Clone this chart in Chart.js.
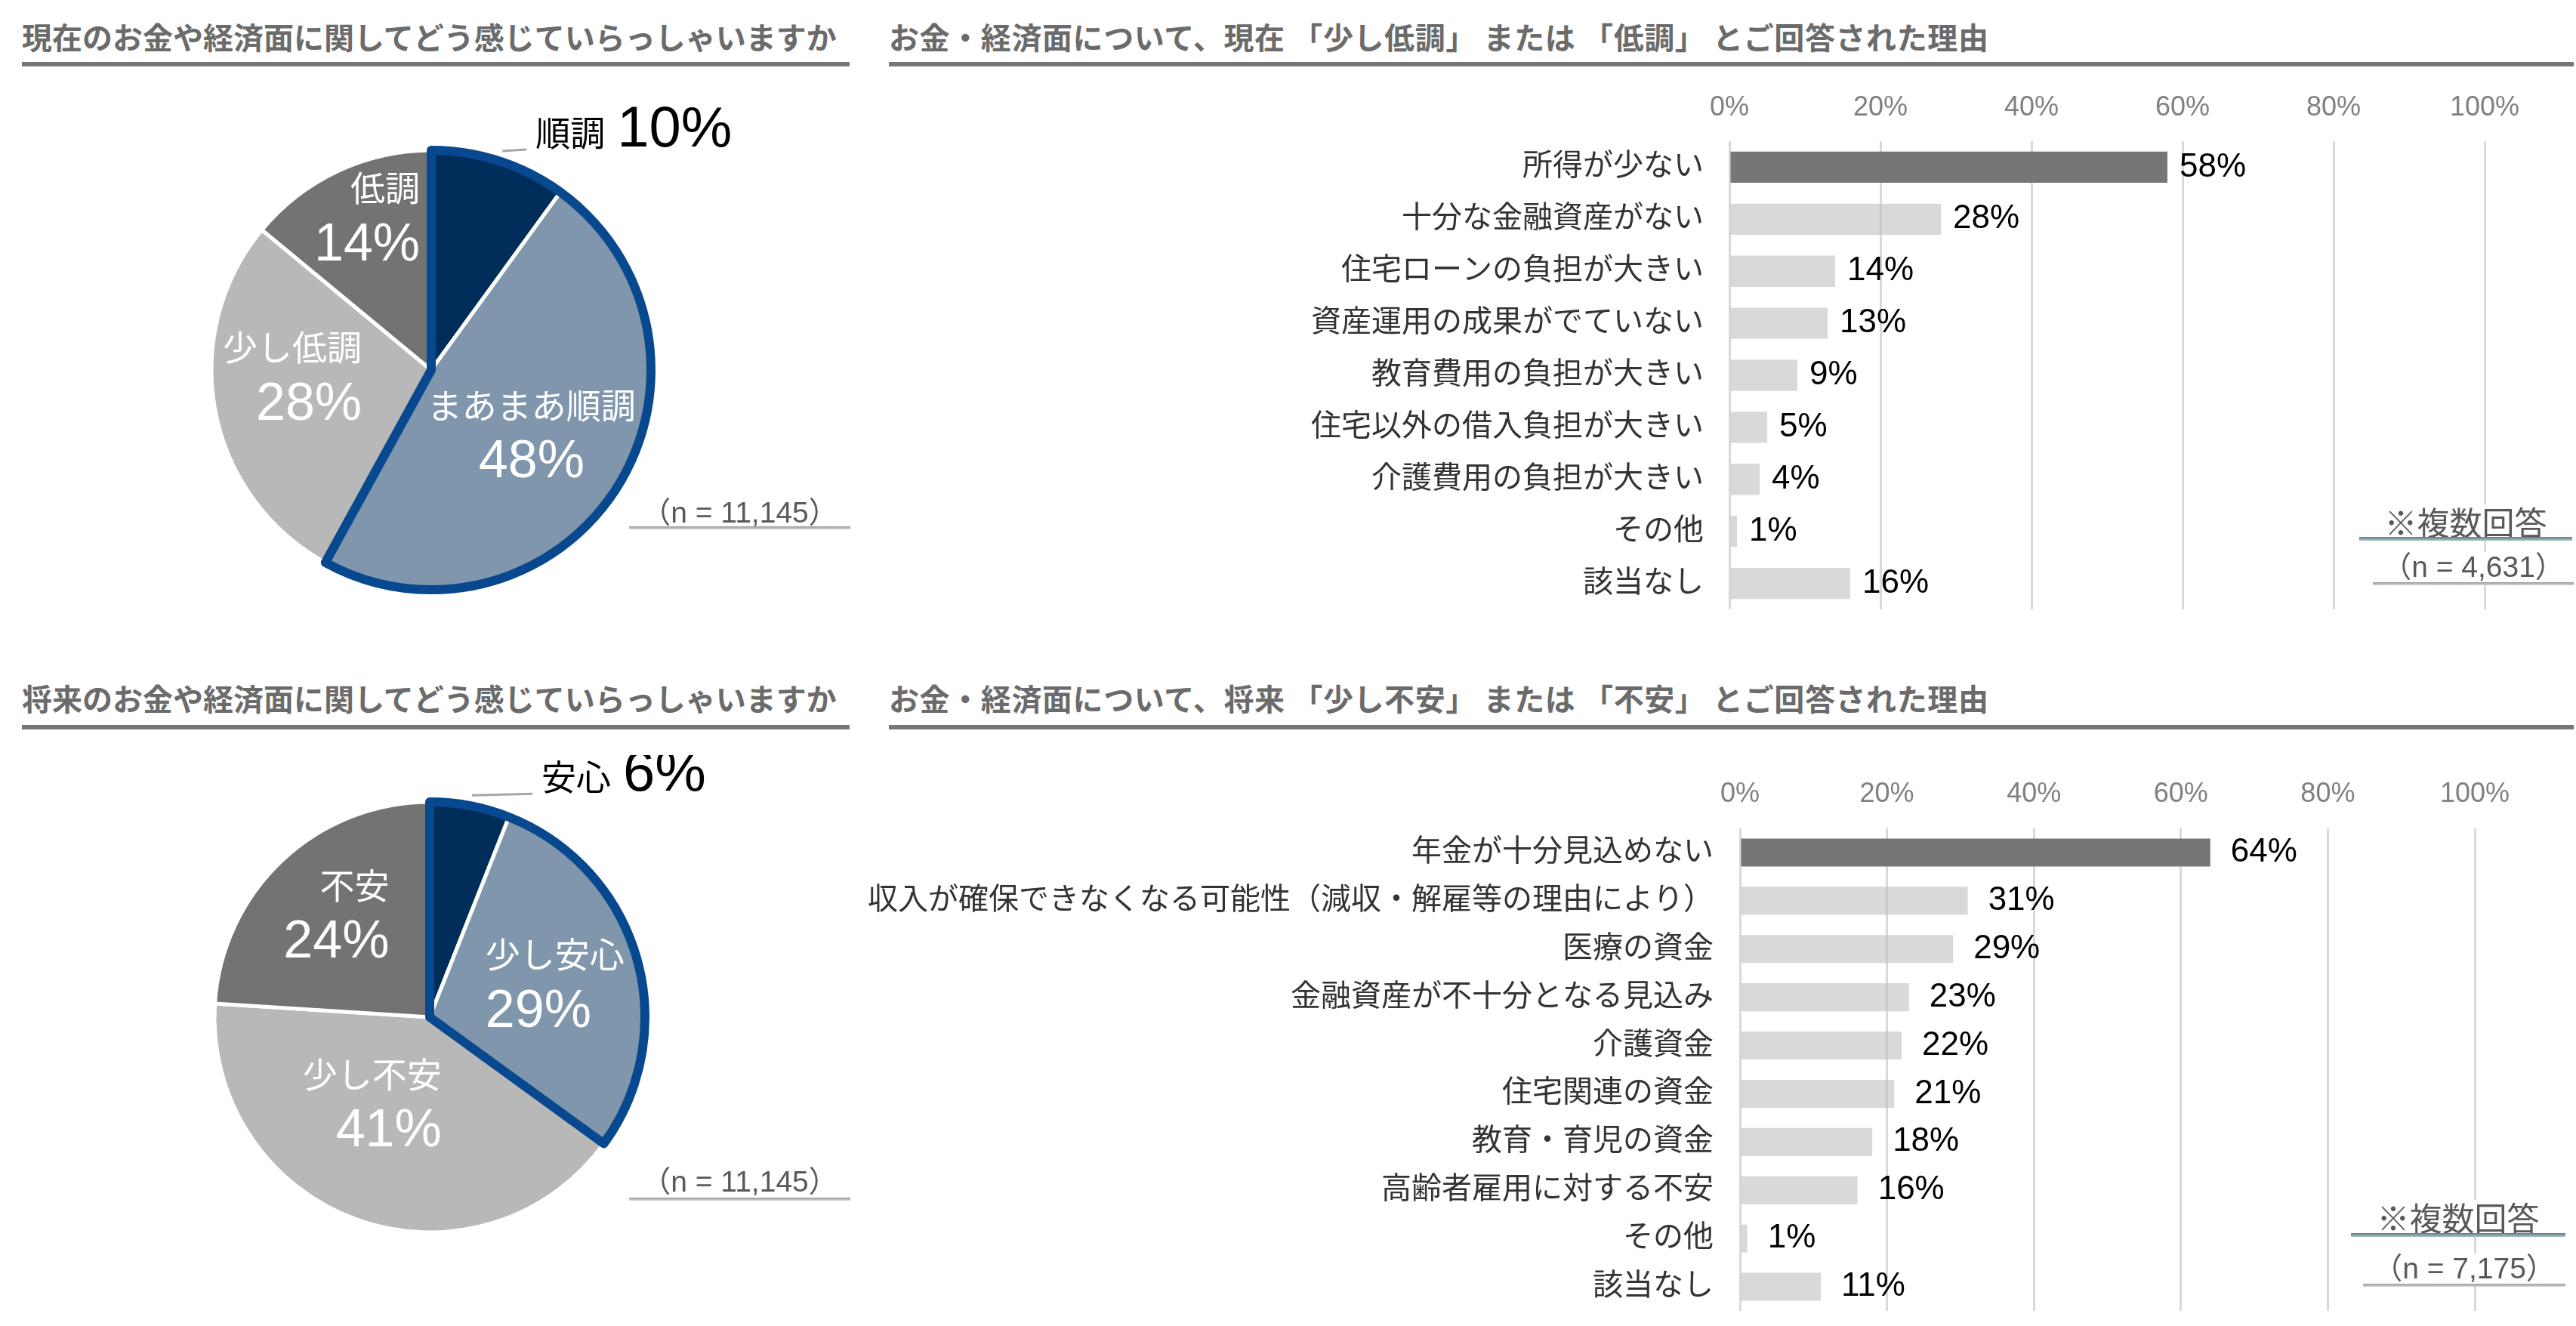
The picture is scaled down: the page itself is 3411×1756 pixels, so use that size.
<!DOCTYPE html>
<html lang="ja">
<head>
<meta charset="utf-8">
<title>お金・経済面に関する意識</title>
<script src="https://cdn.jsdelivr.net/npm/chart.js@4.4.1/dist/chart.umd.min.js"></script>
<style>
    html, body { margin: 0; padding: 0; background: #fff; }
    body {
        position: relative;
        width: 3411px;
        height: 1756px;
        overflow: hidden;
        font-family: 'Liberation Sans', 'Noto Sans CJK JP', sans-serif;
    }
    canvas { position: absolute; }
    .title {
        position: absolute;
        font-family: 'Noto Sans CJK JP', sans-serif;
        font-weight: bold;
        font-size: 40px;
        line-height: 40px;
        color: #6b6b6b;
        white-space: nowrap;
    }
    .title.wide { letter-spacing: 0.6px; }
    .rule { position: absolute; height: 6px; background: #767676; }
    .note {
        position: absolute;
        background: #fff;
        color: #595959;
        text-align: center;
        white-space: nowrap;
        z-index: 2;
    }
    .note.multi { font-family: 'Noto Sans CJK JP', sans-serif; font-size: 43px; }
    .note.count { font-size: 39px; }
    .uline { position: absolute; z-index: 3; }
    .uline.teal { height: 5px; background: linear-gradient(#5d7f86, #a9c2c6); }
    .uline.gray { height: 4px; background: linear-gradient(#9a9a9a, #d4d4d4); }
</style>
</head>
<body>

<div class="title" style="left:29px; top:28px;">現在のお金や経済面に関してどう感じていらっしゃいますか</div>
<div class="rule" style="left:29px; top:82px; width:1096px;"></div>
<div class="title wide" style="left:1177px; top:28px;">お金・経済面について、現在 「少し低調」 または 「低調」 とご回答された理由</div>
<div class="rule" style="left:1177px; top:82px; width:2231px;"></div>

<div class="title" style="left:29px; top:904px;">将来のお金や経済面に関してどう感じていらっしゃいますか</div>
<div class="rule" style="left:29px; top:960px; width:1096px;"></div>
<div class="title wide" style="left:1177px; top:904px;">お金・経済面について、将来 「少し不安」 または 「不安」 とご回答された理由</div>
<div class="rule" style="left:1177px; top:960px; width:2231px;"></div>

<canvas id="presentPie" width="1142" height="780" style="left:0; top:100px;"></canvas>
<canvas id="futurePie" width="1138" height="694" style="left:0; top:1000px;"></canvas>
<canvas id="slumpBars" width="2261" height="720" style="left:1150px; top:100px;"></canvas>
<canvas id="anxietyBars" width="2261" height="770" style="left:1150px; top:980px;"></canvas>

<!-- sample size notes -->
<div class="note count" style="left:833px; top:659px; width:293px; line-height:40px;">（n = 11,145）</div>
<div class="uline gray" style="left:833px; top:697px; width:293px;"></div>
<div class="note count" style="left:833px; top:1545px; width:293px; line-height:40px;">（n = 11,145）</div>
<div class="uline gray" style="left:833px; top:1586px; width:293px;"></div>

<div class="note multi" style="left:3124px; top:668px; width:282px; height:44px; line-height:44px;">※複数回答</div>
<div class="uline teal" style="left:3124px; top:711px; width:282px;"></div>
<div class="note count" style="left:3142px; top:731px; width:266px; height:40px; line-height:40px;">（n = 4,631）</div>
<div class="uline gray" style="left:3142px; top:771px; width:266px;"></div>

<div class="note multi" style="left:3113px; top:1589px; width:284px; height:44px; line-height:44px;">※複数回答</div>
<div class="uline teal" style="left:3113px; top:1633px; width:284px;"></div>
<div class="note count" style="left:3129px; top:1660px; width:268px; height:40px; line-height:40px;">（n = 7,175）</div>
<div class="uline gray" style="left:3129px; top:1700px; width:268px;"></div>

<script>
// --- data ---
const presentLabels = ['順調', 'まあまあ順調', '少し低調', '低調'];
const presentShares = [10, 48, 28, 14];

const futureLabels = ['安心', '少し安心', '少し不安', '不安'];
const futureShares = [6, 29, 41, 24];

const slumpReasons = [
    '所得が少ない',
    '十分な金融資産がない',
    '住宅ローンの負担が大きい',
    '資産運用の成果がでていない',
    '教育費用の負担が大きい',
    '住宅以外の借入負担が大きい',
    '介護費用の負担が大きい',
    'その他',
    '該当なし'
];
const slumpValues = [58, 28, 14, 13, 9, 5, 4, 1, 16];

const anxietyReasons = [
    '年金が十分見込めない',
    '収入が確保できなくなる可能性（減収・解雇等の理由により）',
    '医療の資金',
    '金融資産が不十分となる見込み',
    '介護資金',
    '住宅関連の資金',
    '教育・育児の資金',
    '高齢者雇用に対する不安',
    'その他',
    '該当なし'
];
const anxietyValues = [64, 31, 29, 23, 22, 21, 18, 16, 1, 11];

const pctTicks = [0, 20, 40, 60, 80, 100];

const pieColors = ['#002d5a', '#7f96ad', '#b8b8b8', '#737373'];
const FAMILY = "'Liberation Sans', 'Noto Sans CJK JP', sans-serif";

function font(size) {
    return size + 'px ' + FAMILY;
}

/**
 * Thick outline around the first slices of a pie (the "positive" group)
 */
const groupOutline = {
    id: 'groupOutline',
    afterDatasetsDraw(chart, args, opts) {
        const arcs = chart.getDatasetMeta(0).data;
        const first = arcs[0];
        const last = arcs[opts.count - 1];
        const ctx = chart.ctx;
        ctx.save();
        ctx.beginPath();
        ctx.moveTo(first.x, first.y);
        ctx.arc(first.x, first.y, first.outerRadius, first.startAngle, last.endAngle);
        ctx.closePath();
        ctx.lineWidth = opts.width;
        ctx.strokeStyle = opts.color;
        ctx.lineJoin = 'round';
        ctx.stroke();
        ctx.restore();
    }
};

/**
 * Name + percentage written on (or beside) each slice
 */
const sliceLabels = {
    id: 'sliceLabels',
    afterDatasetsDraw(chart, args, opts) {
        const ctx = chart.ctx;
        const arcs = chart.getDatasetMeta(0).data;
        const labels = chart.data.labels;
        const values = chart.data.datasets[0].data;
        arcs.forEach((arc, i) => {
            const p = opts.placements[i];
            const mid = (arc.startAngle + arc.endAngle) / 2;
            ctx.save();
            ctx.textBaseline = 'middle';
            if (p.outside) {
                const r = arc.outerRadius + 14;
                const sx = arc.x + Math.cos(mid) * r;
                const sy = arc.y + Math.sin(mid) * r;
                ctx.strokeStyle = '#a6a6a6';
                ctx.lineWidth = 3;
                ctx.beginPath();
                ctx.moveTo(sx, sy);
                ctx.lineTo(sx + p.leader, sy - 2);
                ctx.stroke();

                ctx.fillStyle = '#000';
                ctx.textAlign = 'left';
                ctx.font = font(46);
                const nx = sx + p.leader + 12;
                ctx.fillText(labels[i], nx, sy - 20);
                const w = ctx.measureText(labels[i]).width;
                ctx.font = font(76);
                ctx.fillText(values[i] + '%', nx + w + 16, sy - 27);
            } else {
                const half = arc.outerRadius / 2;
                const ax = arc.x + Math.cos(mid) * half + p.dx;
                const ay = arc.y + Math.sin(mid) * half + p.dy;
                ctx.fillStyle = '#fff';
                ctx.textAlign = p.align;
                ctx.font = font(46);
                ctx.fillText(labels[i], ax, ay - 36);
                ctx.font = font(70);
                ctx.fillText(values[i] + '%', ax, ay + 36);
            }
            ctx.restore();
        });
    }
};

/**
 * Value written just after the end of each bar
 */
const valueLabels = {
    id: 'valueLabels',
    afterDatasetsDraw(chart, args, opts) {
        const ctx = chart.ctx;
        const values = chart.data.datasets[0].data;
        ctx.save();
        ctx.font = font(44);
        ctx.fillStyle = '#000';
        ctx.textAlign = 'left';
        ctx.textBaseline = 'middle';
        chart.getDatasetMeta(0).data.forEach((bar, i) => {
            ctx.fillText(values[i] + '%', bar.x + opts.gap, bar.y);
        });
        ctx.restore();
    }
};

function makePie(id, labels, shares, radius, placements) {
    return new Chart(document.getElementById(id), {
        type: 'pie',
        data: {
            labels: labels,
            datasets: [{
                data: shares,
                backgroundColor: pieColors,
                borderColor: '#ffffff',
                borderWidth: 5,
            }],
        },
        options: {
            responsive: false,
            animation: false,
            radius: radius,
            layout: { padding: 0 },
            plugins: {
                legend: { display: false },
                tooltip: { enabled: false },
                groupOutline: { count: 2, color: '#08488f', width: 12 },
                sliceLabels: { placements: placements },
            },
        },
        plugins: [groupOutline, sliceLabels],
    });
}

function makeBars(id, labels, values, o) {
    return new Chart(document.getElementById(id), {
        type: 'bar',
        data: {
            labels: labels,
            datasets: [{
                data: values,
                backgroundColor: values.map((v, i) => i === 0 ? '#767676' : 'rgba(191, 191, 191, 0.6)'),
                barPercentage: o.bar,
                categoryPercentage: 1,
            }],
        },
        options: {
            indexAxis: 'y',
            responsive: false,
            animation: false,
            layout: { padding: { top: 0, left: 0, right: o.padRight, bottom: o.padBottom } },
            plugins: {
                legend: { display: false },
                tooltip: { enabled: false },
                valueLabels: { gap: o.gap },
            },
            scales: {
                x: {
                    position: 'top',
                    min: 0,
                    max: 100,
                    afterBuildTicks: s => { s.ticks = pctTicks.map(v => ({ value: v })); },
                    afterFit: s => { s.height = o.axisH; },
                    ticks: {
                        callback: v => v + '%',
                        color: '#808080',
                        font: { size: 36, family: FAMILY },
                        padding: o.tickPad,
                        maxRotation: 0,
                    },
                    grid: { color: '#d9d9d9', lineWidth: 3, drawTicks: false },
                    border: { display: false },
                },
                y: {
                    // fixed axis width; labels sit inside their bands so no extra padding
                    afterFit: s => {
                        s.width = o.axisW;
                        s.paddingTop = 0;
                        s.paddingBottom = 0;
                    },
                    ticks: {
                        color: '#333333',
                        font: { size: 40, family: FAMILY },
                        padding: o.labelPad,
                        autoSkip: false,
                    },
                    grid: { display: false, drawTicks: false },
                    border: { display: false },
                },
            },
        },
        plugins: [valueLabels],
    });
}

makePie('presentPie', presentLabels, presentShares, 291, [
    { outside: true, leader: 32 },
    { dx: 10, dy: 9, align: 'center' },
    { dx: 51, dy: -17, align: 'right' },
    { dx: 47, dy: -69, align: 'right' },
]);

makePie('futurePie', futureLabels, futureShares, 285, [
    { outside: true, leader: 80 },
    { dx: -63, dy: -3, align: 'left' },
    { dx: 64, dy: -18, align: 'right' },
    { dx: 44, dy: -30, align: 'right' },
]);

makeBars('slumpBars', slumpReasons, slumpValues, {
    bar: 0.6, gap: 16, axisH: 87, tickPad: 22, axisW: 1140, labelPad: 34, padRight: 121, padBottom: 13,
});

makeBars('anxietyBars', anxietyReasons, anxietyValues, {
    bar: 0.58, gap: 27, axisH: 117, tickPad: 23, axisW: 1154, labelPad: 35, padRight: 134, padBottom: 14,
});
</script>
</body>
</html>
